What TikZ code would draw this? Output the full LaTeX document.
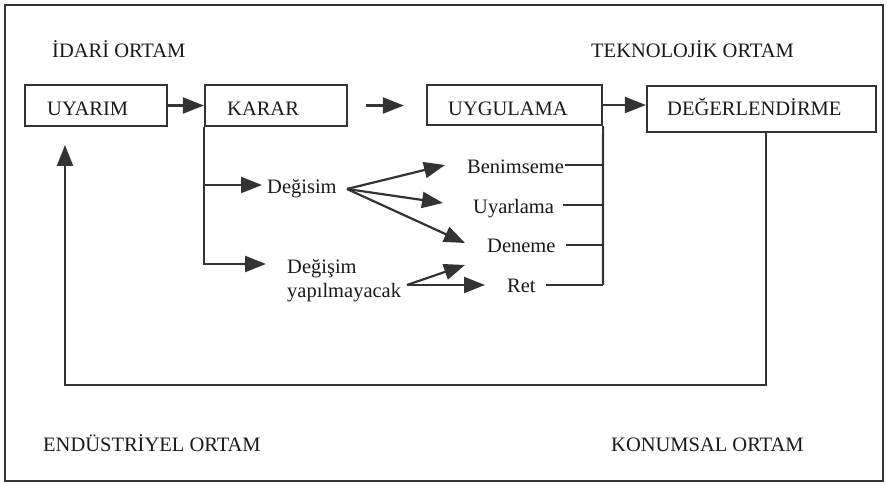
\documentclass[tikz,border=0pt]{standalone}
\usepackage{fontspec}
\setmainfont{Liberation Serif}
\usetikzlibrary{arrows.meta}
\begin{document}
\begin{tikzpicture}[x=1pt,y=-1pt,
  ln/.style={line width=2.2pt, draw=black!80},
  arr/.style={ln, -{Triangle[length=21pt,width=16pt]}},
  box/.style={ln, rectangle, inner sep=0pt},
  lbl/.style={inner sep=0pt, anchor=base west, font=\fontsize{20.5}{24}\selectfont, text=black!90}]
\useasboundingbox (0,0) rectangle (887,486);
\node[box, minimum width=878pt, minimum height=476pt] (frame) at (444,243) {};
% boxes
\node[box, minimum width=142pt, minimum height=41pt] (uyarim) at (96,105.5) {};
\node[box, minimum width=142pt, minimum height=41pt] (karar) at (276,105.5) {};
\node[box, minimum width=175pt, minimum height=40pt] (uyg) at (514.5,105) {};
\node[box, minimum width=229pt, minimum height=46pt] (deg) at (761.5,109) {};
% box labels
\node[lbl] (tuyarim) at (47,116) {UYARIM};
\node[lbl] (tkarar) at (227,116) {KARAR};
\node[lbl] (tuyg) at (448,116) {UYGULAMA};
\node[lbl] (tdeg) at (667,116) {DEĞERLENDİRME};
% corner labels
\node[lbl] (idari) at (52,58) {İDARİ ORTAM};
\node[lbl] (tekno) at (591,58) {TEKNOLOJİK ORTAM};
\node[lbl] (endus) at (43,452) {ENDÜSTRİYEL ORTAM};
\node[lbl] (konum) at (611,452) {KONUMSAL ORTAM};
% small labels
\node[lbl] (degisim) at (267,194) {Değisim};
\node[lbl] (degisim2) at (287,274) {Değişim};
\node[lbl] (yap) at (287,298) {yapılmayacak};
\node[lbl] (benim) at (467,174) {Benimseme};
\node[lbl] (uyar) at (473,214) {Uyarlama};
\node[lbl] (denem) at (487,253) {Deneme};
\node[lbl] (ret) at (507,293) {Ret};
% coordinates for arrow ends
\coordinate (t1) at (262,185);
\coordinate (t2) at (266,264);
\coordinate (tb) at (445,165);
\coordinate (tu) at (443,203);
\coordinate (td) at (465,243);
\coordinate (td2) at (465,265);
\coordinate (tr) at (485,285);
\coordinate (ys) at (407,285);
\coordinate (ds) at (347,189);
\coordinate (rb) at (603,285);
\coordinate (uin) at (65,145);
\coordinate (sb) at ([xshift=1pt,yshift=9pt]benim.base east);
\coordinate (su) at ([xshift=9pt,yshift=9pt]uyar.base east);
\coordinate (sd) at ([xshift=10pt,yshift=8pt]denem.base east);
\coordinate (sr) at ([xshift=10pt,yshift=8pt]ret.base east);
% main chain
\draw[arr] (uyarim.east) -- (uyarim.east -| karar.west);
\draw[arr] ([xshift=18pt]karar.east) -- ([xshift=-22pt]karar.east -| uyg.west);
\draw[arr] (uyg.east) -- (uyg.east -| deg.west);
% feedback
\draw[arr] ([xshift=4.5pt]deg.south) -- ++(0,252) -| (uin);
% karar branches
\draw[arr] (karar.south west) |- (t1);
\draw[arr] (karar.south west) |- (t2);
% degisim arrows
\draw[arr] (ds) -- (tb);
\draw[arr] (ds) -- (tu);
\draw[arr] (ds) -- (td);
\draw[arr] (ys) -- (td2);
\draw[arr] (ys) -- (tr);
% right collector
\draw[ln] (uyg.south east) -- (rb);
\draw[ln] (sb) -- (sb -| rb);
\draw[ln] (su) -- (su -| rb);
\draw[ln] (sd) -- (sd -| rb);
\draw[ln] (sr) -- (rb);
\end{tikzpicture}
\end{document}
